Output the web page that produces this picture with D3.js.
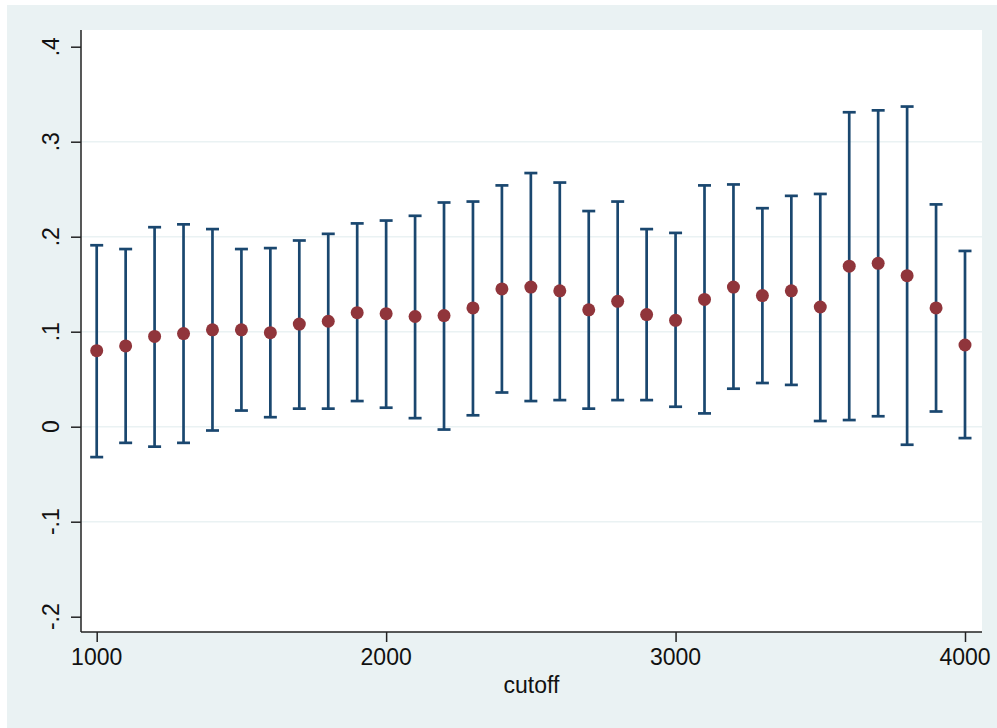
<!DOCTYPE html>
<html>
<head>
<meta charset="utf-8">
<script src="https://cdn.jsdelivr.net/npm/d3@7"></script>
<style>
  body { margin: 0; background: #fff; }
  text { font-family: "Liberation Sans", Arial, sans-serif; fill: #111; }
</style>
</head>
<body>
<div id="chart"></div>
<script>
// Data: cutoff, point estimate, CI bounds
const cutoffs = [1000, 1100, 1200, 1300, 1400, 1500, 1600, 1700, 1800, 1900, 2000,
                 2100, 2200, 2300, 2400, 2500, 2600, 2700, 2800, 2900, 3000,
                 3100, 3200, 3300, 3400, 3500, 3600, 3700, 3800, 3900, 4000];
const estimates = [0.080, 0.085, 0.095, 0.098, 0.102, 0.102, 0.099, 0.108, 0.111, 0.120, 0.119,
                   0.116, 0.117, 0.125, 0.145, 0.147, 0.143, 0.123, 0.132, 0.118, 0.112,
                   0.134, 0.147, 0.138, 0.143, 0.126, 0.169, 0.172, 0.159, 0.125, 0.086];
const ciUpper = [0.191, 0.187, 0.210, 0.213, 0.208, 0.187, 0.188, 0.196, 0.203, 0.214, 0.217,
                 0.222, 0.236, 0.237, 0.254, 0.267, 0.257, 0.227, 0.237, 0.208, 0.204,
                 0.254, 0.255, 0.230, 0.243, 0.245, 0.331, 0.333, 0.337, 0.234, 0.185];
const ciLower = [-0.032, -0.017, -0.021, -0.017, -0.004, 0.017, 0.010, 0.019, 0.019, 0.027, 0.020,
                 0.009, -0.003, 0.012, 0.036, 0.027, 0.028, 0.019, 0.028, 0.028, 0.021,
                 0.014, 0.040, 0.046, 0.044, 0.006, 0.007, 0.011, -0.019, 0.016, -0.012];
const xTicks = [1000, 2000, 3000, 4000];
const yTicks = [-0.2, -0.1, 0, 0.1, 0.2, 0.3, 0.4];
const yTickLabels = ["-.2", "-.1", "0", ".1", ".2", ".3", ".4"];

const W = 997, H = 728;
const plot = { left: 81, top: 30, right: 982, bottom: 632 };

const navy = "#1a476f";
const maroon = "#90353b";
const bg = "#eaf2f3";

const data = cutoffs.map((c, i) => ({ c, est: estimates[i], lo: ciLower[i], hi: ciUpper[i] }));

const svg = d3.select("#chart").append("svg")
    .attr("width", W)
    .attr("height", H);

// Graph region background
svg.append("rect")
    .attr("x", 7).attr("y", 5)
    .attr("width", W - 7).attr("height", H - 5)
    .attr("fill", bg);

// Plot region
svg.append("rect")
    .attr("x", plot.left).attr("y", plot.top)
    .attr("width", plot.right - plot.left).attr("height", plot.bottom - plot.top)
    .attr("fill", "#fff");

const x = d3.scaleLinear().domain([1000, 4000]).range([96.7, 965]);
const y = d3.scaleLinear().domain([-0.2, 0.4]).range([616.7, 46.7]);

// Gridlines (not at the extremes)
svg.append("g")
    .selectAll("line")
    .data(yTicks.filter(d => d > -0.2 && d < 0.4))
    .join("line")
    .attr("x1", plot.left).attr("x2", plot.right)
    .attr("y1", d => y(d)).attr("y2", d => y(d))
    .attr("stroke", bg)
    .attr("stroke-width", 1.5);

// Y axis
const yAxis = svg.append("g")
    .attr("transform", `translate(${plot.left},0)`)
    .call(d3.axisLeft(y).tickValues(yTicks).tickSize(10).tickFormat(""));
yAxis.select(".domain").attr("d", `M0,${plot.top}V${plot.bottom}`).attr("stroke", "#222").attr("stroke-width", 1.5);
yAxis.selectAll(".tick line").attr("stroke", "#222").attr("stroke-width", 1.5);

svg.append("g")
    .selectAll("text")
    .data(yTicks)
    .join("text")
    .attr("transform", d => `translate(59,${y(d)}) rotate(-90)`)
    .attr("text-anchor", "middle")
    .style("font-size", "23px")
    .text((d, i) => yTickLabels[i]);

// X axis
const xAxis = svg.append("g")
    .attr("transform", `translate(0,${plot.bottom})`)
    .call(d3.axisBottom(x).tickValues(xTicks).tickSize(10).tickFormat(""));
xAxis.select(".domain").attr("d", `M${plot.left},0H${plot.right}`).attr("stroke", "#222").attr("stroke-width", 1.5);
xAxis.selectAll(".tick line").attr("stroke", "#222").attr("stroke-width", 1.5);

svg.append("g")
    .selectAll("text")
    .data(xTicks)
    .join("text")
    .attr("x", d => x(d))
    .attr("y", 665)
    .attr("text-anchor", "middle")
    .style("font-size", "23px")
    .text(d => d);

svg.append("text")
    .attr("x", (plot.left + plot.right) / 2)
    .attr("y", 693)
    .attr("text-anchor", "middle")
    .style("font-size", "23px")
    .text("cutoff");

// Error bars
const capHalf = 6.5;
const bars = svg.append("g")
    .attr("stroke", navy)
    .attr("stroke-width", 2.7);

bars.selectAll("line.stem")
    .data(data)
    .join("line")
    .attr("class", "stem")
    .attr("x1", d => x(d.c)).attr("x2", d => x(d.c))
    .attr("y1", d => y(d.hi)).attr("y2", d => y(d.lo));

bars.selectAll("line.cap-hi")
    .data(data)
    .join("line")
    .attr("class", "cap-hi")
    .attr("x1", d => x(d.c) - capHalf).attr("x2", d => x(d.c) + capHalf)
    .attr("y1", d => y(d.hi)).attr("y2", d => y(d.hi));

bars.selectAll("line.cap-lo")
    .data(data)
    .join("line")
    .attr("class", "cap-lo")
    .attr("x1", d => x(d.c) - capHalf).attr("x2", d => x(d.c) + capHalf)
    .attr("y1", d => y(d.lo)).attr("y2", d => y(d.lo));

// Point estimates
svg.append("g")
    .selectAll("circle")
    .data(data)
    .join("circle")
    .attr("cx", d => x(d.c))
    .attr("cy", d => y(d.est))
    .attr("r", 6.5)
    .attr("fill", maroon);
</script>
</body>
</html>
